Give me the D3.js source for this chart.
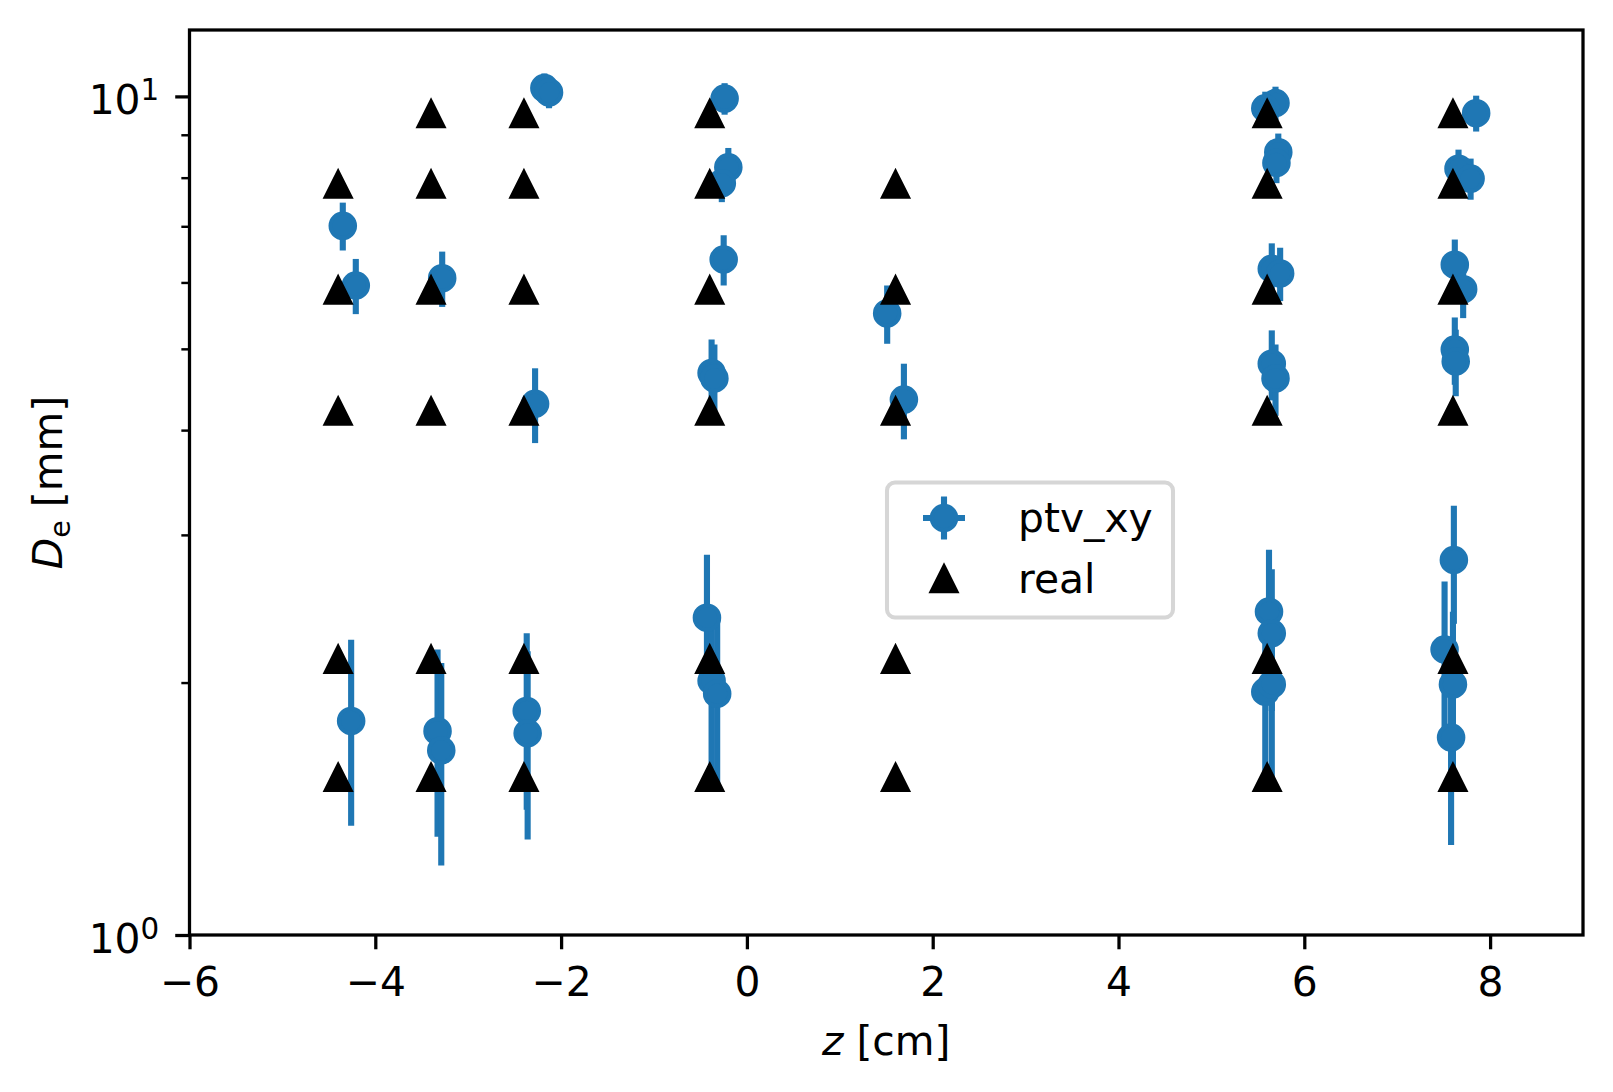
<!DOCTYPE html>
<html lang="en">
<head>
<meta charset="utf-8" />
<title>De vs z</title>
<script src="https://cdn.jsdelivr.net/npm/d3@7"></script>
<style>
  body { margin: 0; background: #fff; }
</style>
</head>
<body>
<svg id="chart" width="1613" height="1092"></svg>
<script>
// measured (ptv_xy) points: z [cm], De [mm], errors
const ptvZ = [
  -4.35, -4.21, -4.26,
  -3.28, -3.33, -3.29,
  -2.18, -2.13, -2.28, -2.37, -2.36,
  -0.24, -0.20, -0.27, -0.25, -0.38, -0.35, -0.43, -0.38, -0.32,
  1.51, 1.69,
  5.69, 5.58, 5.72, 5.70, 5.65, 5.74, 5.65, 5.69, 5.62, 5.65, 5.58, 5.65,
  7.85, 7.66, 7.79, 7.62, 7.71, 7.62, 7.63, 7.61, 7.51, 7.60, 7.58
];
const ptvD = [
  7.01, 5.95, 1.80,
  6.07, 1.75, 1.66,
  10.23, 10.11, 4.30, 1.85, 1.74,
  9.94, 8.23, 7.88, 6.39, 4.68, 4.61, 2.39, 2.01, 1.94,
  5.51, 4.35,
  9.82, 9.68, 8.58, 8.33, 6.23, 6.15, 4.80, 4.61, 2.43, 2.29, 1.95, 1.99,
  9.55, 8.20, 7.98, 6.30, 5.89, 4.99, 4.83, 2.80, 2.19, 1.99, 1.72
];
const ptvDErr = [
  0.46, 0.45, 0.45,
  0.46, 0.44, 0.45,
  0.42, 0.43, 0.44, 0.44, 0.44,
  0.43, 0.45, 0.40, 0.44, 0.45, 0.45, 0.45, 0.45, 0.45,
  0.44, 0.45,
  0.45, 0.45, 0.45, 0.45, 0.45, 0.45, 0.46, 0.45, 0.45, 0.44, 0.45, 0.45,
  0.47, 0.44, 0.45, 0.45, 0.45, 0.46, 0.44, 0.45, 0.45, 0.44, 0.44
];
const ptvZErr = [
  0.1, 0.1, 0.1,
  0.1, 0.1, 0.1,
  0.1, 0.1, 0.1, 0.1, 0.1,
  0.1, 0.1, 0.1, 0.1, 0.1, 0.1, 0.1, 0.1, 0.1,
  0.1, 0.1,
  0.1, 0.1, 0.1, 0.1, 0.1, 0.1, 0.1, 0.1, 0.1, 0.1, 0.1, 0.1,
  0.1, 0.1, 0.1, 0.1, 0.1, 0.1, 0.1, 0.1, 0.1, 0.1, 0.1
];

// real particle sizes (triangles)
const realZ = [
  -4.4, -4.4, -4.4, -4.4, -4.4,
  -3.4, -3.4, -3.4, -3.4, -3.4, -3.4,
  -2.4, -2.4, -2.4, -2.4, -2.4, -2.4,
  -0.4, -0.4, -0.4, -0.4, -0.4, -0.4,
  1.6, 1.6, 1.6, 1.6, 1.6,
  5.6, 5.6, 5.6, 5.6, 5.6, 5.6,
  7.6, 7.6, 7.6, 7.6, 7.6, 7.6
];
const realD = [
  7.85, 5.87, 4.21, 2.13, 1.54,
  9.53, 7.85, 5.87, 4.21, 2.13, 1.54,
  9.53, 7.85, 5.87, 4.21, 2.13, 1.54,
  9.53, 7.85, 5.87, 4.21, 2.13, 1.54,
  7.85, 5.87, 4.21, 2.13, 1.54,
  9.53, 7.85, 5.87, 4.21, 2.13, 1.54,
  9.53, 7.85, 5.87, 4.21, 2.13, 1.54
];

const xTicks = [-6, -4, -2, 0, 2, 4, 6, 8];
const yMajor = [1, 10];
const yMinor = [2, 3, 4, 5, 6, 7, 8, 9];
const legendLabels = ["ptv_xy", "real"];

const blue = "#1f77b4";
const font = "DejaVu Sans, Liberation Sans, sans-serif";
const pt = 4.08;          // pixels per point
const fs = 10 * pt;       // 10pt text
const ms = 6 * pt;        // marker size
const mew = 1 * pt;       // marker edge width
const lw = 1.5 * pt;      // error bar width

const svg = d3.select("#chart")
  .attr("font-family", font);

svg.append("rect").attr("width", 1613).attr("height", 1092).attr("fill", "#fff");

const width = 1613, height = 1092;
const margin = {top: 30, right: 30, bottom: 157, left: 189.5};

const x = d3.scaleLinear()
  .domain([-6, 9])
  .range([margin.left, width - margin.right]);

const y = d3.scaleLog()
  .domain([1, 12])
  .range([height - margin.bottom, margin.top]);

// axes
const xAxis = svg.append("g")
  .attr("transform", `translate(0,${height - margin.bottom})`)
  .call(d3.axisBottom(x).tickValues(xTicks).tickSize(3.5 * pt).tickPadding(18).tickSizeOuter(0));
xAxis.select(".domain").remove();
xAxis.selectAll(".tick line").attr("stroke-width", 0.8 * pt);
xAxis.selectAll(".tick text")
  .attr("font-size", fs)
  .attr("font-family", font)
  .attr("fill", "#000");

const yAxisMinor = svg.append("g")
  .attr("transform", `translate(${margin.left},0)`)
  .call(d3.axisLeft(y).tickValues(yMinor).tickSize(2 * pt).tickFormat(""));
yAxisMinor.select(".domain").remove();
yAxisMinor.selectAll(".tick line").attr("stroke-width", 0.6 * pt);

const yAxis = svg.append("g")
  .attr("transform", `translate(${margin.left},0)`)
  .call(d3.axisLeft(y).tickValues(yMajor).tickSize(3.5 * pt).tickPadding(16));
yAxis.select(".domain").remove();
yAxis.selectAll(".tick line").attr("stroke-width", 0.8 * pt);
yAxis.selectAll(".tick text")
  .attr("font-size", fs)
  .attr("font-family", font)
  .attr("fill", "#000")
  .attr("dy", "0.42em")
  .text(null)
  .each(function(d) {
    const t = d3.select(this);
    t.append("tspan").text("10");
    t.append("tspan")
      .attr("font-size", fs * 0.72)
      .attr("dy", -14)
      .text(Math.round(Math.log10(d)));
  });

// error bars and markers for ptv_xy
const ptv = ptvZ.map((z, i) => ({z, d: ptvD[i], e: ptvDErr[i], ze: ptvZErr[i]}));
const gPtv = svg.append("g");
gPtv.selectAll("line.v")
  .data(ptv)
  .join("line")
    .attr("class", "v")
    .attr("x1", p => x(p.z)).attr("x2", p => x(p.z))
    .attr("y1", p => y(p.d - p.e)).attr("y2", p => y(p.d + p.e))
    .attr("stroke", blue).attr("stroke-width", lw);
gPtv.selectAll("line.h")
  .data(ptv)
  .join("line")
    .attr("class", "h")
    .attr("x1", p => x(p.z - p.ze)).attr("x2", p => x(p.z + p.ze))
    .attr("y1", p => y(p.d)).attr("y2", p => y(p.d))
    .attr("stroke", blue).attr("stroke-width", lw);
gPtv.selectAll("circle")
  .data(ptv)
  .join("circle")
    .attr("cx", p => x(p.z))
    .attr("cy", p => y(p.d))
    .attr("r", ms / 2)
    .attr("fill", blue)
    .attr("stroke", blue).attr("stroke-width", mew);

// matplotlib-like '^' marker
const triPath = s => `M0,${-s}L${s},${s}L${-s},${s}Z`;
const real = realZ.map((z, i) => ({z, d: realD[i]}));
svg.append("g")
  .selectAll("path")
  .data(real)
  .join("path")
    .attr("transform", r => `translate(${x(r.z)},${y(r.d)})`)
    .attr("d", triPath(ms / 2))
    .attr("fill", "#000")
    .attr("stroke", "#000").attr("stroke-width", mew).attr("stroke-linejoin", "miter");

// frame
svg.append("rect")
  .attr("x", margin.left).attr("y", margin.top)
  .attr("width", width - margin.right - margin.left)
  .attr("height", height - margin.bottom - margin.top)
  .attr("fill", "none").attr("stroke", "#000").attr("stroke-width", 0.8 * pt);

// axis labels
svg.append("text")
  .attr("x", (margin.left + width - margin.right) / 2).attr("y", 1055)
  .attr("text-anchor", "middle")
  .attr("font-size", fs)
  .call(t => t.append("tspan").attr("font-style", "italic").text("z"))
  .call(t => t.append("tspan").text(" [cm]"));

svg.append("text")
  .attr("transform", `translate(62,${(margin.top + height - margin.bottom) / 2}) rotate(-90)`)
  .attr("text-anchor", "middle")
  .attr("font-size", fs)
  .call(t => t.append("tspan").attr("font-style", "italic").text("D"))
  .call(t => t.append("tspan").attr("font-size", fs * 0.7).attr("dy", 8).text("e"))
  .call(t => t.append("tspan").attr("dy", -8).text(" [mm]"));

// legend
const lg = svg.append("g");
lg.append("rect")
  .attr("x", 887).attr("y", 482.5).attr("width", 286).attr("height", 135)
  .attr("rx", 8)
  .attr("fill", "#fff").attr("fill-opacity", 0.8)
  .attr("stroke", "#d6d6d6").attr("stroke-width", pt);
const lx = 944, ly = [518, 579];
lg.append("line").attr("x1", lx).attr("x2", lx).attr("y1", ly[0] - 21.5).attr("y2", ly[0] + 21.5)
  .attr("stroke", blue).attr("stroke-width", lw);
lg.append("line").attr("x1", lx - 21).attr("x2", lx + 21).attr("y1", ly[0]).attr("y2", ly[0])
  .attr("stroke", blue).attr("stroke-width", lw);
lg.append("circle").attr("cx", lx).attr("cy", ly[0]).attr("r", ms / 2)
  .attr("fill", blue).attr("stroke", blue).attr("stroke-width", mew);
lg.append("path").attr("transform", `translate(${lx},${ly[1]})`).attr("d", triPath(ms / 2))
  .attr("fill", "#000").attr("stroke", "#000").attr("stroke-width", mew);
lg.selectAll("text.lbl")
  .data(legendLabels)
  .join("text")
    .attr("class", "lbl")
    .attr("x", 1018)
    .attr("y", (d, i) => ly[i] + 14)
    .attr("font-size", fs)
    .text(d => d);
</script>
</body>
</html>
